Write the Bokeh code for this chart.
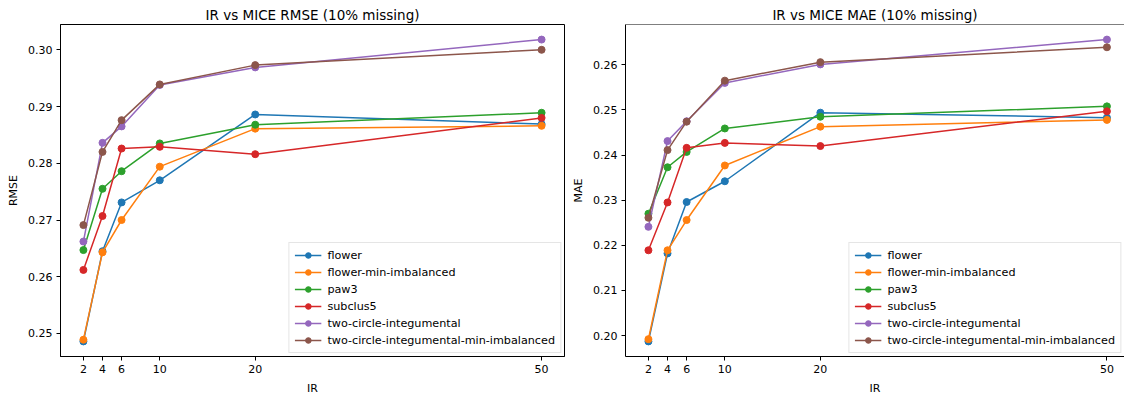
from bokeh.plotting import figure
from bokeh.layouts import row
from bokeh.models import Range1d, FixedTicker, NumeralTickFormatter, Span, Legend
from bokeh.embed import file_html
from bokeh.resources import INLINE

ir = [2, 4, 6, 10, 20, 50]
series_names = ["flower", "flower-min-imbalanced", "paw3", "subclus5",
                "two-circle-integumental", "two-circle-integumental-min-imbalanced"]
colors = ["#1f77b4", "#ff7f0e", "#2ca02c", "#d62728", "#9467bd", "#8c564b"]

rmse_flower = [0.2486, 0.2645, 0.2731, 0.2770, 0.2886, 0.2869]
rmse_flower_min = [0.2489, 0.2643, 0.2700, 0.2794, 0.2861, 0.2866]
rmse_paw3 = [0.2647, 0.2755, 0.2786, 0.2835, 0.2868, 0.2889]
rmse_subclus5 = [0.2612, 0.2707, 0.2826, 0.2829, 0.2816, 0.2880]
rmse_tci = [0.2662, 0.2836, 0.2865, 0.2938, 0.2969, 0.3018]
rmse_tci_min = [0.2691, 0.2820, 0.2876, 0.2939, 0.2973, 0.3000]

mae_flower = [0.1987, 0.2182, 0.2296, 0.2342, 0.2494, 0.2483]
mae_flower_min = [0.1992, 0.2189, 0.2256, 0.2377, 0.2463, 0.2478]
mae_paw3 = [0.2270, 0.2373, 0.2407, 0.2459, 0.2485, 0.2508]
mae_subclus5 = [0.2189, 0.2295, 0.2416, 0.2427, 0.2420, 0.2497]
mae_tci = [0.2241, 0.2431, 0.2475, 0.2560, 0.2601, 0.2656]
mae_tci_min = [0.2261, 0.2411, 0.2474, 0.2565, 0.2606, 0.2639]

rmse_ticks = [0.25, 0.26, 0.27, 0.28, 0.29, 0.30]
mae_ticks = [0.20, 0.21, 0.22, 0.23, 0.24, 0.25, 0.26]

FONT = "DejaVu Sans"


def make_fig(title, ylabel, data, yticks, width, border_left, border_right, x_end):
    allv = [v for s in data for v in s]
    lo, hi = min(allv), max(allv)
    pad = (hi - lo) * 0.05
    p = figure(width=width, height=397, output_backend="svg", toolbar_location=None,
               x_range=Range1d(-0.4, x_end), y_range=Range1d(lo - pad, hi + pad),
               min_border_left=border_left, min_border_right=border_right,
               min_border_top=24, min_border_bottom=41)
    p.title.text = title
    p.title.align = "center"
    p.title.text_font = FONT
    p.title.text_font_size = "13.5px"
    p.title.text_font_style = "normal"
    p.title.text_color = "#000000"
    p.title.standoff = 4
    p.grid.visible = False
    p.background_fill_color = "white"
    p.border_fill_color = "white"
    p.outline_line_color = "black"
    p.outline_line_width = 1

    for ax in (p.xaxis[0], p.yaxis[0]):
        ax.axis_line_color = "black"
        ax.axis_line_width = 1
        ax.major_tick_line_color = "black"
        ax.major_tick_in = 0
        ax.major_tick_out = 4
        ax.minor_tick_line_color = None
        ax.major_label_text_font = FONT
        ax.major_label_text_font_size = "11px"
        ax.major_label_text_color = "#000000"
        ax.major_label_standoff = 4
        ax.axis_label_text_font = FONT
        ax.axis_label_text_font_size = "11px"
        ax.axis_label_text_font_style = "normal"
        ax.axis_label_text_color = "#000000"
        ax.axis_label_standoff = 6

    p.xaxis.ticker = FixedTicker(ticks=ir)
    p.xaxis.axis_label = "IR"
    p.yaxis.ticker = FixedTicker(ticks=yticks)
    p.yaxis.formatter = NumeralTickFormatter(format="0.00")
    p.yaxis.axis_label = ylabel
    p.yaxis.axis_label_standoff = 5

    items = []
    for name, col, vals in zip(series_names, colors, data):
        r1 = p.line(ir, vals, line_color=col, line_width=1.5)
        r2 = p.scatter(ir, vals, size=7, fill_color=col, line_color=col, marker="circle")
        items.append((name, [r1, r2]))

    legend = Legend(items=items, location="bottom_right")
    legend.label_text_font = FONT
    legend.label_text_font_size = "11.2px"
    legend.label_text_color = "#000000"
    legend.glyph_width = 27
    legend.glyph_height = 14
    legend.label_height = 14
    legend.label_standoff = 6
    legend.spacing = 3
    legend.padding = 5
    legend.margin = 3
    legend.border_line_color = "#cccccc"
    legend.border_line_width = 1
    legend.background_fill_alpha = 0.8
    p.add_layout(legend)
    return p


p1 = make_fig("IR vs MICE RMSE (10% missing)", "RMSE",
              [rmse_flower, rmse_flower_min, rmse_paw3, rmse_subclus5, rmse_tci, rmse_tci_min],
              rmse_ticks, 566, 60, 2, 52.4)
p2 = make_fig("IR vs MICE MAE (10% missing)", "MAE",
              [mae_flower, mae_flower_min, mae_paw3, mae_subclus5, mae_tci, mae_tci_min],
              mae_ticks, 558, 59, 0, 51.84)
p2.outline_line_color = None
p2.add_layout(Span(location=p2.y_range.end, dimension="width", line_color="black", line_width=1))

layout = row(p1, p2)
open("out.html", "w").write(file_html(layout, INLINE))
